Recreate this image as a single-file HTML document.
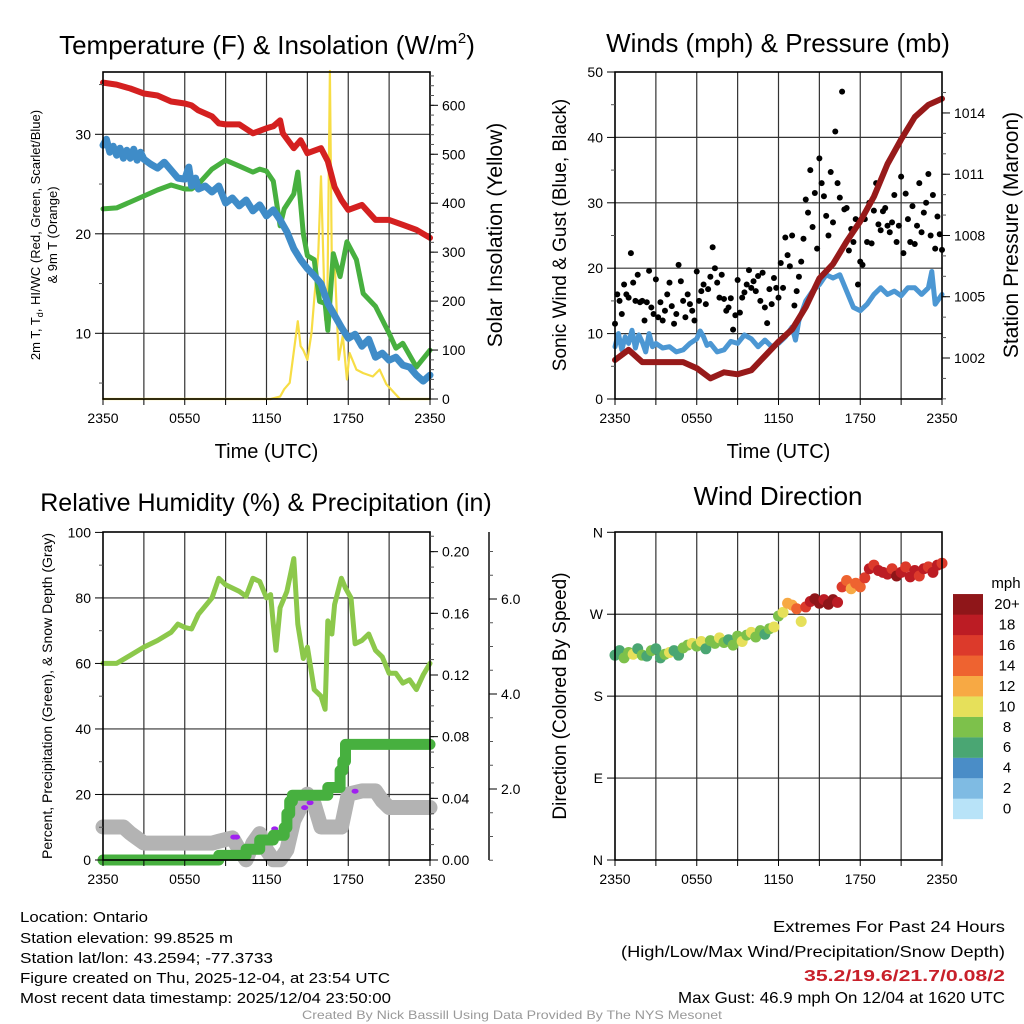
<!DOCTYPE html>
<html><head><meta charset="utf-8"><title>Mesonet Meteogram</title>
<style>
html,body{margin:0;padding:0;background:#fff;}
svg{display:block;font-family:"Liberation Sans",Arial,sans-serif;}
</style></head>
<body>
<svg id="chart" width="1024" height="1024" viewBox="0 0 1024 1024" xmlns="http://www.w3.org/2000/svg"></svg>
<script>
// ---------------- DATA ----------------
const tempHours = [0,1,2,3,4,5,6,6.5,7,8,8.5,9,10,11,12,12.5,13,13.2,14,14.5,15,16,16.5,17,17.5,18,19,20,21,22,23,24];
const tempVals  = [35.2,35,34.6,34.1,33.9,33.3,33.1,32.9,32.4,31.8,31.1,31.0,31.0,30.1,30.6,30.8,31.4,30.1,28.6,29.4,28.1,28.6,27.3,24.7,23.4,22.4,22.9,21.4,21.4,20.9,20.4,19.6];
const wcHours = [0,0.25,0.5,0.75,1,1.25,1.5,1.75,2,2.25,2.5,2.75,3,3.5,4,4.5,5,5.5,6,6.3,6.5,6.8,7,7.5,8,8.5,9,9.5,10,10.5,11,11.5,12,12.5,13,13.5,14,14.5,15,15.5,16,16.5,17,17.5,18,18.5,19,19.5,20,20.5,21,21.5,22,22.5,23,23.5,24];
const wcVals  = [28.9,29.5,28.2,28.8,27.9,28.6,27.6,28.4,27.6,28.5,27.4,28.2,27.5,27.0,26.6,27.2,26.4,25.6,25.5,26.7,24.8,25.6,24.5,24.8,24.2,24.8,23.1,23.6,22.8,23.4,22.3,22.9,21.8,22.4,21.4,20.2,18.5,17.4,16.5,15.8,15.0,13.0,11.8,10.6,9.5,9.9,8.7,9.4,7.6,8.0,7.3,7.6,6.8,6.6,5.8,5.2,5.8];
const tdHours = [0,1,2,3,4,5,6,6.5,7,8,9,10,11,11.5,12,12.5,13,13.3,14,14.3,14.7,15,15.5,15.9,16.3,16.5,16.9,17.4,17.9,18.6,19.1,20,21,21.5,22,23,24];
const tdVals  = [22.5,22.6,23.2,23.8,24.4,24.9,24.5,24.5,25.0,26.5,27.4,26.8,26.2,26.5,26.3,25.3,20.8,22.5,24.0,26.2,20.0,17.8,17.4,13.2,13.0,10.3,18.0,15.7,19.2,17.4,14.0,12.7,10.0,8.5,9.0,6.6,8.3];
const solarHours = [0,12.3,13,13.3,13.7,14.3,14.5,14.7,15.0,15.3,15.5,15.8,16.0,16.3,16.45,16.65,16.8,17.0,17.3,17.6,17.9,18.1,18.6,19.1,19.8,20.3,20.8,21.5,21.8,24];
const solarVals  = [0,0,5,20,33,159,108,100,80,135,203,298,455,162,152,670,257,285,80,130,40,94,60,53,46,60,30,9,0,0];
const windHours = [0,0.25,0.5,0.75,1,1.25,1.5,1.75,2,2.25,2.5,2.75,3,3.5,4,4.5,5,5.5,6,6.25,6.5,6.75,7,7.5,8,8.5,9,9.5,10,10.5,11,11.5,12,12.5,13,13.25,13.5,14,14.5,15,15.5,16,16.5,17,17.5,18,18.5,19,19.5,20,20.5,21,21.5,22,22.5,23,23.25,23.5,24];
const windVals  = [8,10,7.5,9.5,8.5,10.5,7.8,9.8,8.7,7.2,10,8,8.5,7.8,8,7.2,7.5,8.5,9.2,10.4,9.5,8.2,8.5,7.2,7.5,8.8,8.5,9.8,9.2,8,9,8,8.5,9.5,11,9,12,15,16.5,17.5,19,18.5,19,16.5,14,13.5,14.5,16,17,16,16.5,15.8,17,17,16,17,19.5,14.5,16];
const presHours = [0,1,2,3,4,5,6,7,8,9,10,11,12,13,14,15,16,17,18,19,20,21,22,23,24];
const presVals  = [1001.9,1002.4,1001.8,1001.8,1001.8,1001.8,1001.5,1001.0,1001.3,1001.2,1001.4,1002.1,1002.8,1003.4,1004.5,1005.9,1006.6,1007.7,1008.7,1009.9,1011.5,1012.7,1013.8,1014.4,1014.7];
const gustVals = [11.5,16,15,13,17.5,16, 15.5,22.3,17.8,15,19,14.8, 15,12,14.8,19.6,14,13, 18.3,12.5,14.8,12,13.5,16,
 17.8,14.2,11.5,13,20.5,18, 15,12.5,16,14.5,13.5,12, 19.5,15,16.5,17.5,14.5,16.8, 18.7,23.2,20,17.8,15.5,19,
 15.3,13.5,14,15.4,10.6,12.8, 18.2,13.2,15.5,16.3,17.5,19.7, 17,18,16.5,18.8,15,19.3, 14,11.6,16.8,14.5,18.5,17,
 15.5,20.8,17,24.7,22,20.3, 25,14.3,16.5,18.7,21,24.5, 30.5,28.5,35,26.3,31.5,23, 36.8,33,31,28,25,34.7,
 27,40.9,33,30.8,47,29, 29.2,22.7,26,24,27.5,17.5, 21,20.5,27.5,24,30,23.8, 28.8,33,26.7,25.8,28.7,29.2,
 26.5,25.5,27,31.2,24,26.5, 34,22.3,31.4,27.5,24,29.5, 23.7,26.5,33,25.5,28.5,30, 34.4,25,31.2,23,27.9,25.2, 22.8];
const rhHours = [0,1,2,3,4,5,5.5,6,6.5,7,8,8.5,9,10,10.5,11,11.5,12,12.3,12.5,12.7,13,13.5,14,14.3,14.7,15,15.5,16,16.3,16.5,16.8,17,17.5,17.8,18.2,18.5,19,19.5,20,20.5,21,21.5,22,22.5,23,23.5,24];
const rhVals  = [60,60,62.5,65,67,69.5,72,71,70.5,75,80,86,84,82,80.5,86,85,80,81,72,64,77,82,92,72,61.5,65,52,50,46,73,69,78,86,83,80,66,67,69,64,62,57,57,54,55,52,56.5,60];
const precipHours = [0,8.5,8.5,10.5,10.5,11.5,11.5,12.5,12.5,13.3,13.3,13.5,13.5,13.7,13.7,13.9,13.9,16.5,16.5,17.4,17.4,17.6,17.6,17.8,17.8,24];
const precipVals  = [0,0,0.003,0.003,0.007,0.007,0.013,0.013,0.016,0.016,0.021,0.021,0.03,0.03,0.038,0.038,0.042,0.042,0.047,0.047,0.058,0.058,0.064,0.064,0.075,0.075];
const snowHours = [0,1.5,2,3,4,5,6,7,8,8.5,9.5,10,10.5,11,11.5,12,12.5,13,13.5,14,15,15.5,16,17,17.5,18,19,20,20.5,21,24];
const snowVals  = [1.2,1.2,1.07,0.86,0.86,0.86,0.86,0.86,0.86,0.9,0.97,0.72,0.51,0.86,1.06,0.72,0.51,0.51,0.72,1.34,1.89,1.68,1.2,1.2,1.2,1.89,1.96,1.96,1.75,1.61,1.61];
const purpleHours = [9.6,9.8,12.4,12.6,14.8,15.2,18.5];
const purplePct   = [7,7,8,9.5,16,17.5,21];
const dirVals = [225,230,222,228,226,232,225,224,230,232,222,226,228,230,225,233,236,238,235,240,232,241,238,244,239,242,236,246,240,247,250,245,252,248,254,256,268,272,282,280,276,262,278,284,287,282,286,281,286,283,300,307,298,304,300,310,320,324,318,316,314,320,312,316,322,311,318,312,320,322,316,324,326];
const spdVals = [7,6,8,9,10,7,8,6,9,7,6,8,10,7,6,8,9,10,8,10,7,9,8,10,8,7,9,8,10,9,10,9,8,7,9,10,9,11,12,13,14,10,16,18,20,20,19,21,20,18,17,14,13,15,14,16,18,17,19,18,18,17,20,19,17,18,18,16,19,17,18,18,17];
const cbarLabels = ["0","2","4","6","8","10","12","14","16","18","20+"];
const cbarColors = ["#b8e3f8","#7fbbe3","#4a8dc7","#4aa673","#7dc14b","#e6e05a","#f7a944","#ee6330","#dc3a2b","#bc1c24","#8f1619"];
const xTickLabels = ["2350","0550","1150","1750","2350"];

// ---------------- DRAW ----------------
const NS = "http://www.w3.org/2000/svg";
const svg = document.getElementById("chart");
function mk(tag, attrs, parent){
  const e = document.createElementNS(NS, tag);
  for (const k in attrs) e.setAttribute(k, attrs[k]);
  (parent || svg).appendChild(e);
  return e;
}
function txt(s, attrs, parent){ const e = mk("text", attrs, parent); e.textContent = s; return e; }

const P1 = {x0:103,x1:430,y0:72,y1:399};
const P2 = {x0:615,x1:942,y0:72,y1:399};
const P3 = {x0:103,x1:430,y0:532,y1:860};
const P4 = {x0:615,x1:942,y0:532,y1:860};
function xs(p,h){ return p.x0 + h/24*(p.x1-p.x0); }
const yT = v => 333.3 - (v-10)*9.95;
const yS = v => 399 - v*0.4895;
const yW = v => 399 - v*6.54;
const yP = v => 358 - (v-1002)*20.42;
const yPct = v => 860 - v*3.276;
const yIn = v => 860 - v*1541.7;
const ySnow = v => 884 - v*47.5;
const yDir = v => 860 - v*0.9103;

function frame(p, name, hTicks){
  const g = mk("g", {});
  
  
  for (let k=1;k<8;k++){
    const x = xs(p,k*3);
    const l = mk("line",{x1:x,y1:p.y0,x2:x,y2:p.y1,stroke:"#333","stroke-width":1.2},g);
    
    
  }
  hTicks.forEach(y=>{
    const l = mk("line",{x1:p.x0,y1:y,x2:p.x1,y2:y,stroke:"#333","stroke-width":1.2},g);
    
    
  });
  return g;
}
function border(p){
  const r = mk("rect",{x:p.x0,y:p.y0,width:p.x1-p.x0,height:p.y1-p.y0,fill:"none",stroke:"#000","stroke-width":1.6});
  
  
}
function xAxis(p, withTitle){
  for (let k=0;k<=8;k++){
    const x = xs(p,k*3);
    const t = mk("line",{x1:x,y1:p.y1,x2:x,y2:p.y1+6,stroke:"#000","stroke-width":1});
    
    
  }
  xTickLabels.forEach((s,i)=>{
    const t = txt(s,{x:xs(p,i*6),y:p.y1+24,"font-size":14,"text-anchor":"middle"});
    
    
  });
  if (withTitle){
    const t = txt("Time (UTC)",{x:(p.x0+p.x1)/2,y:p.y1+59,"font-size":20,"text-anchor":"middle"});
    
    
  }
}
function yTicks(x, side, majors, minors, fy, labels, fs){
  const dir = side==="left" ? -1 : 1;
  minors.forEach(v=>{
    const t = mk("line",{x1:x,y1:fy(v),x2:x+dir*4,y2:fy(v),stroke:"#555","stroke-width":1});
    
    
  });
  majors.forEach((v,i)=>{
    const t = mk("line",{x1:x,y1:fy(v),x2:x+dir*8,y2:fy(v),stroke:"#000","stroke-width":1});
    
    
    const l = txt(labels[i],{x:x+dir*12,y:fy(v)+5,"font-size":fs||14,"text-anchor":side==="left"?"end":"start"});
    
    
  });
}
function poly(p, hours, vals, fy, color, w, name){
  const pts = hours.map((h,i)=>xs(p,h).toFixed(1)+","+fy(vals[i]).toFixed(1)).join(" ");
  const e = mk("polyline",{points:pts,fill:"none",stroke:color,"stroke-width":w,"stroke-linejoin":"round","stroke-linecap":"round"});
  
  
  return e;
}
function title(s,x,y,name,size){
  const t = txt(s,{x:x,y:y,"font-size":size||26,"text-anchor":"middle"});
  
  
  return t;
}
function rotLabel(s,x,y,size,name){
  const t = txt(s,{x:x,y:y,"font-size":size,"text-anchor":"middle",transform:`rotate(-90 ${x} ${y})`});
  
  
  return t;
}
const range=(a,b,s)=>{const r=[];for(let v=a;v<=b+1e-9;v+=s)r.push(+v.toFixed(4));return r;};

// ===== Panel 1 =====
frame(P1,"temp-grid",[10,20,30].map(yT));
poly(P1, solarHours, solarVals, yS, "#f7dd45", 2.2, "solar-insolation-line");
poly(P1, tdHours, tdVals, yT, "#47b03f", 5, "dewpoint-line");
poly(P1, wcHours, wcVals, yT, "#3f8cc8", 7, "windchill-line");
poly(P1, tempHours, tempVals, yT, "#d42020", 6, "temperature-line");
border(P1);
xAxis(P1,true);
yTicks(P1.x0,"left",[10,20,30],[5,15,25,35],yT,["10","20","30"]);
yTicks(P1.x1,"right",[0,100,200,300,400,500,600],range(20,660,20),yS,["0","100","200","300","400","500","600"]);
const t1 = title("",267,54,"temp-panel-title");
t1.innerHTML = 'Temperature (F) &amp; Insolation (W/m<tspan font-size="15" dy="-11">2</tspan><tspan dy="11">)</tspan>';
const l1a = rotLabel("",40,235,13,"temp-y-axis-title");
l1a.innerHTML = '2m T, T<tspan font-size="9" dy="3">d</tspan><tspan dy="-3">, HI/WC (Red, Green, Scarlet/Blue)</tspan>';
rotLabel("& 9m T (Orange)",57,235,13,"temp-y-axis-title-line2");
rotLabel("Solar Insolation (Yellow)",502,235,21,"solar-y-axis-title");

// ===== Panel 2 =====
frame(P2,"wind-grid",[10,20,30,40].map(yW));
poly(P2, windHours, windVals, yW, "#4c97d3", 5, "sustained-wind-line");
gustVals.forEach((v,i)=>{
  const c = mk("circle",{cx:xs(P2,i/6),cy:yW(v),r:3,fill:"#000"});
  
  
});
poly(P2, presHours, presVals, yP, "#971a1a", 6, "pressure-line");
border(P2);
xAxis(P2,true);
yTicks(P2.x0,"left",[0,10,20,30,40,50],range(5,45,10),yW,["0","10","20","30","40","50"]);
yTicks(P2.x1,"right",[1002,1005,1008,1011,1014],range(1000,1015,1),yP,["1002","1005","1008","1011","1014"]);
title("Winds (mph) & Pressure (mb)",778,52,"wind-panel-title");
rotLabel("Sonic Wind & Gust (Blue, Black)",566,235,19,"wind-y-axis-title");
rotLabel("Station Pressure (Maroon)",1018,235,21,"pressure-y-axis-title");

// ===== Panel 3 =====
frame(P3,"rh-grid",[20,40,60,80].map(yPct));
poly(P3, snowHours, snowVals, ySnow, "#b3b3b3", 15, "snow-depth-line");
purpleHours.forEach((h,i)=>{
  const c = mk("ellipse",{cx:xs(P3,h),cy:yPct(purplePct[i]),rx:3.5,ry:2.5,fill:"#a020f0"});
  
  
});
poly(P3, precipHours, precipVals, yIn, "#47b03f", 11, "precipitation-line");
poly(P3, rhHours, rhVals, yPct, "#8cc84b", 5, "relative-humidity-line");
border(P3);
xAxis(P3,false);
yTicks(P3.x0,"left",[0,20,40,60,80,100],range(10,90,20),yPct,["0","20","40","60","80","100"]);
yTicks(P3.x1,"right",[0,0.04,0.08,0.12,0.16,0.20],range(0,0.21,0.01),yIn,["0.00","0.04","0.08","0.12","0.16","0.20"]);
const sAx = mk("line",{x1:489,y1:532,x2:489,y2:860,stroke:"#000","stroke-width":1.4});


yTicks(489,"right",[2,4,6],range(0.5,7,0.5),ySnow,["2.0","4.0","6.0"]);
title("Relative Humidity (%) & Precipitation (in)",266,511,"rh-panel-title",25);
rotLabel("Percent, Precipitation (Green), & Snow Depth (Gray)",52,696,14,"rh-y-axis-title");

// ===== Panel 4 =====
frame(P4,"direction-grid",[90,180,270].map(yDir));
function spdColor(s){ let i=Math.floor(s/2); if(i>10)i=10; if(i<0)i=0; return cbarColors[i]; }
dirVals.forEach((d,i)=>{
  const c = mk("circle",{cx:xs(P4,i/3),cy:yDir(d),r:5.5,fill:spdColor(spdVals[i])});
  
  
});
border(P4);
xAxis(P4,false);
yTicks(P4.x0,"left",[0,90,180,270,360],[],yDir,["N","E","S","W","N"]);
title("Wind Direction",778,505,"direction-panel-title");
rotLabel("Direction (Colored By Speed)",566,696,19,"direction-y-axis-title");
cbarColors.forEach((c,i)=>{
  const y = 819 - (i+1)*20.45;
  const r = mk("rect",{x:953,y:y,width:30,height:20.6,fill:c});
  
  
  const t = txt(cbarLabels[i],{x:1007,y:y+15,"font-size":15,"text-anchor":"middle"});
  
  
});
const cbT = txt("mph",{x:1006,y:588,"font-size":15,"text-anchor":"middle"});



// ===== Footer text =====
const info = [["Location: Ontario",128],["Station elevation: 99.8525 m",213],["Station lat/lon: 43.2594; -77.3733",253],["Figure created on Thu, 2025-12-04, at 23:54 UTC",370],["Most recent data timestamp: 2025/12/04 23:50:00",371]];
const infoY = [922,943,963,983,1003];
info.forEach((s,i)=>{
  const t = txt(s[0],{x:20,y:infoY[i],"font-size":15,textLength:s[1],lengthAdjust:"spacingAndGlyphs"});
  
  
});
const ext = [["Extremes For Past 24 Hours",232,932,"#000","normal"],["(High/Low/Max Wind/Precipitation/Snow Depth)",384,957,"#000","normal"],["35.2/19.6/21.7/0.08/2",201,981,"#c8202a","bold"],["Max Gust: 46.9 mph On 12/04 at 1620 UTC",327,1003,"#000","normal"]];
ext.forEach(s=>{
  const t = txt(s[0],{x:1005,y:s[2],"font-size":16,"text-anchor":"end",fill:s[3],"font-weight":s[4],textLength:s[1],lengthAdjust:"spacingAndGlyphs"});
  
  
});
const cr = txt("Created By Nick Bassill Using Data Provided By The NYS Mesonet",{x:302,y:1019,"font-size":12,fill:"#999",textLength:420,lengthAdjust:"spacingAndGlyphs"});


</script>
</body></html>
